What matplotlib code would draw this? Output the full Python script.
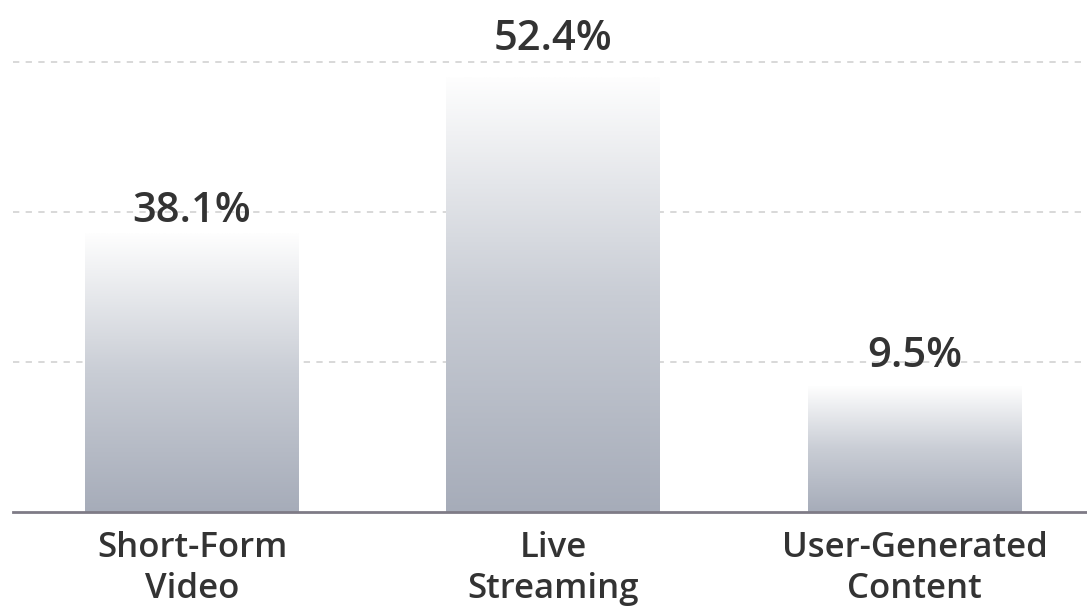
import numpy as np
import matplotlib
matplotlib.use("Agg")
import matplotlib.pyplot as plt
from matplotlib.colors import LinearSegmentedColormap

categories = ["Short-Form\nVideo", "Live\nStreaming", "User-Generated\nContent"]
values = [38.1, 52.4, 9.5]
# bar heights as drawn in the picture (axis units, grid every 20)
bar_heights = [37.2, 57.9, 16.8]
label_y = [38.7, 61.6, 19.3]
grid_levels = [20, 40, 60]

plt.rcParams['font.family'] = ['Open Sans', 'DejaVu Sans']

fig = plt.figure(figsize=(10.87, 6.06), dpi=100)
ax = fig.add_axes([13 / 1087, (606 - 512) / 606, (1087 - 13) / 1087, 512 / 606])
xlim = (-0.4955, 2.4775)
ylim = (0, 512 / 7.5)

for g in grid_levels:
    ax.axhline(g, color='#d6d6d6', lw=1.3, ls=(0, (3.5, 3.5)), zorder=1)

cmap = LinearSegmentedColormap.from_list('bar', ['#a6acb9', '#c9cdd5', '#fefefe'])
grad = np.linspace(0, 1, 256).reshape(-1, 1)
width = 0.592
for i, h in enumerate(bar_heights):
    ax.imshow(grad, cmap=cmap, origin='lower', aspect='auto',
              extent=(i - width / 2, i + width / 2, 0, h), zorder=2)
    ax.text(i, label_y[i], f"{values[i]}%", ha='center', va='baseline',
            fontsize=30, fontweight='semibold', color='#333333', zorder=3)

ax.set_xlim(*xlim)
ax.set_ylim(*ylim)

for s in ['top', 'right', 'left']:
    ax.spines[s].set_visible(False)
ax.spines['bottom'].set_color('#7e7b86')
ax.spines['bottom'].set_linewidth(2)
ax.set_yticks([])
ax.set_xticks(range(len(categories)))
ax.set_xticklabels(categories, fontsize=25, fontweight='semibold', color='#333333', linespacing=1.25)
ax.tick_params(axis='x', length=0, pad=14)

fig.savefig('out.png', dpi=100)
